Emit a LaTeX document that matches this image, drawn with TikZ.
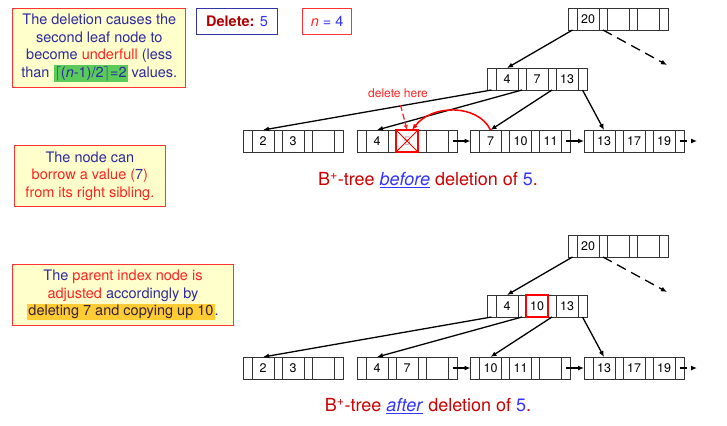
\documentclass[tikz,border=0pt]{standalone}
\usepackage{fontspec}
\setmainfont{TeX Gyre Heros}
\usetikzlibrary{arrows.meta,calc}
\definecolor{navy}{HTML}{2D2A9E}
\definecolor{bblue}{HTML}{3333FF}
\definecolor{boxred}{HTML}{FF3333}
\definecolor{txtred}{HTML}{FF2222}
\definecolor{capred}{HTML}{CC0000}
\definecolor{delred}{HTML}{B00000}
\definecolor{boxblue}{HTML}{3333AA}
\definecolor{boxyellow}{HTML}{FFFFCC}
\definecolor{hlgreen}{HTML}{5ACB5A}
\definecolor{hlorange}{HTML}{FFCC33}
\definecolor{txtdark}{HTML}{33203A}
\definecolor{cellgray}{HTML}{333333}
\newcommand\bpnode[6]{%
 \node[cellp] (#1p1) at (#2,#3) {};
 \node[cellk] (#1k1) at (#1p1.north east) {#4};
 \node[cellpm] (#1p2) at (#1k1.north east) {};
 \node[cellk] (#1k2) at (#1p2.north east) {#5};
 \node[cellpm] (#1p3) at (#1k2.north east) {};
 \node[cellk] (#1k3) at (#1p3.north east) {#6};
 \node[cellp] (#1p4) at (#1k3.north east) {};
}
\begin{document}
\begin{tikzpicture}[x=1pt,y=-1pt,
  cellbase/.style={draw=cellgray, line width=0.9pt, inner sep=0pt, outer sep=0pt, anchor=north west, minimum height=22pt},
  cellp/.style={cellbase, minimum width=9pt},
  cellpm/.style={cellbase, minimum width=8pt},
  cellk/.style={cellbase, minimum width=22pt, font=\fontsize{12.5}{12.5}\selectfont},
  arr/.style={-{Latex[length=6pt,width=5pt]}, line width=1.3pt, black},
  tbox/.style={draw=boxred, fill=boxyellow, line width=1pt, align=center, inner sep=0pt, text=navy, font=\fontsize{14.5}{17.5}\selectfont},
  capt/.style={text=capred, font=\fontsize{18}{20}\selectfont}]
\useasboundingbox (0,0) rectangle (727,425);

% text boxes
\node[tbox, minimum width=173pt, minimum height=79pt] (box1) at (99.3,47.8)
 {The deletion causes the\\ second leaf node to\\ become \textcolor{txtred}{underfull} (less\\ than {\fboxsep=1pt\colorbox{hlgreen}{$\lceil$(\textit{n}-1)/2$\rceil$=2}} values.};
\node[tbox, draw=boxblue, fill=white, minimum width=80.6pt, minimum height=25.7pt] (delbox) at (237,21.2)
 {\textcolor{delred}{\bfseries Delete:} \textcolor{bblue}{5}};
\node[tbox, fill=white, minimum width=49pt, minimum height=25.7pt] (nbox) at (327.2,21.2)
 {\textcolor{txtred}{\textit{n}} \textcolor{bblue}{= 4}};
\node[tbox, minimum width=151.7pt, minimum height=61.7pt] (box2) at (89.9,175.9)
 {The node can\\ \textcolor{txtred}{borrow a value (}\textcolor{navy}{7}\textcolor{txtred}{)}\\ \textcolor{txtred}{from its right sibling.}};
\node[tbox, minimum width=220.6pt, minimum height=61.4pt] (box3) at (123,295)
 {The \textcolor{txtred}{parent index node is}\\ \textcolor{txtred}{adjusted} accordingly by\\ {\fboxsep=1pt\colorbox{hlorange}{\textcolor{txtdark}{deleting 7 and copying up 10}}}.};

% ---------- top tree (before) ----------
\bpnode{A}{568}{8}{20}{}{}
\bpnode{I}{487}{68}{4}{7}{13}
\bpnode{La}{243}{130}{2}{3}{}
\bpnode{Lb}{357}{130}{4}{\textcolor{gray!60}{5}}{}
\bpnode{Lc}{470.5}{130}{7}{10}{11}
\bpnode{Ld}{584}{130}{13}{17}{19}
\coordinate (Adash) at (667,65);
\coordinate (Ldend) at (697,141);
\draw[arr] (Ap1.south) -- (Ik1.north);
\draw[arr, dash pattern=on 10pt off 6pt] (Ap2.south) -- (Adash);
\draw[arr] (Ip1.south) -- (Lak1.north);
\draw[arr] (Ip2.south) -- (Lbk1.north);
\draw[arr] (Ip3.south) -- (Lck1.north);
\draw[arr] (Ip4.south) -- (Ldk1.north);
\draw[arr] (Lbp4.center) -- (Lcp1.west);
\draw[arr] (Lcp4.center) -- (Ldp1.west);
\draw[arr, dash pattern=on 7pt off 20pt] (Ldp4.center) -- (Ldend);
% deletion marks
\draw[red, line width=0.8pt] (Lbk2.north west) -- (Lbk2.south east) (Lbk2.north east) -- (Lbk2.south west);
\draw[red, line width=2pt] (Lbk2.north west) rectangle (Lbk2.south east);
\node[text=txtred, font=\fontsize{12}{12}\selectfont] (delhere) at (398,93) {delete here};
\coordinate (delfrom) at (400.5,105);
\draw[-{Latex[length=5pt,width=4.5pt]}, txtred, line width=1.3pt, dash pattern=on 6pt off 3pt] (delfrom) -- (Lbk2.north);
\draw[-{Latex[length=6pt,width=5pt]}, red, line width=1.5pt] (Lck1.north) .. controls (478,104) and (432,104) .. ($(Lbk2.north)+(5,0)$);
\node[capt] (cap1) at (428,180) {B\textsuperscript{+}-tree \textcolor{bblue}{\underline{\textit{before}}} deletion of \textcolor{bblue}{5}.};

% ---------- bottom tree (after) ----------
\bpnode{B}{568}{235}{20}{}{}
\bpnode{J}{487}{295}{4}{10}{13}
\bpnode{Ma}{243}{357}{2}{3}{}
\bpnode{Mb}{357}{357}{4}{7}{}
\bpnode{Mc}{470.5}{357}{10}{11}{}
\bpnode{Md}{584}{357}{13}{17}{19}
\coordinate (Bdash) at (667,292);
\coordinate (Mdend) at (697,368);
\draw[arr] (Bp1.south) -- (Jk1.north);
\draw[arr, dash pattern=on 10pt off 6pt] (Bp2.south) -- (Bdash);
\draw[arr] (Jp1.south) -- (Mak1.north);
\draw[arr] (Jp2.south) -- (Mbk1.north);
\draw[arr] (Jp3.south) -- (Mck1.north);
\draw[arr] (Jp4.south) -- (Mdk1.north);
\draw[arr] (Mbp4.center) -- (Mcp1.west);
\draw[arr] (Mcp4.center) -- (Mdp1.west);
\draw[arr, dash pattern=on 7pt off 20pt] (Mdp4.center) -- (Mdend);
\draw[red, line width=2pt] (Jk2.north west) rectangle (Jk2.south east);
\node[capt] (cap2) at (428,406) {B\textsuperscript{+}-tree \textcolor{bblue}{\underline{\textit{after}}} deletion of \textcolor{bblue}{5}.};
\end{tikzpicture}
\end{document}
